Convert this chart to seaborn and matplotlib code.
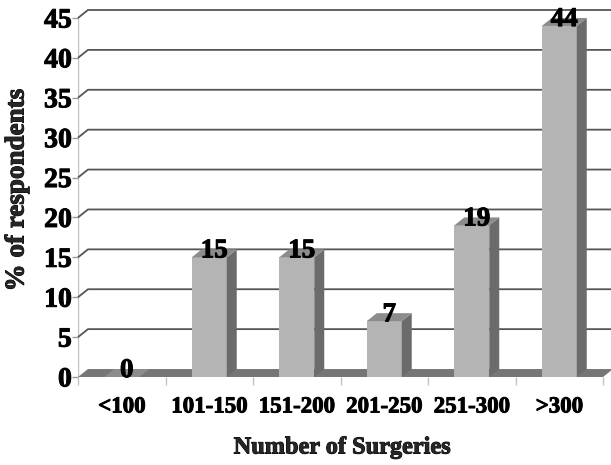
import numpy as np
import pandas as pd
import matplotlib
matplotlib.use("Agg")
import matplotlib.pyplot as plt
import matplotlib.patheffects as pe
from matplotlib.patches import Polygon
import seaborn as sns

# Survey data: share of respondents by annual number of surgeries
categories = ["<100", "101-150", "151-200", "201-250", "251-300", ">300"]
percent = [0, 15, 15, 7, 19, 44]
yticks = [0, 5, 10, 15, 20, 25, 30, 35, 40, 45]

FRONT = "#b4b4b4"
SIDE = "#6b6b6b"
TOP = "#8c8c8c"
FLOOR = "#767676"
GRID = "#555555"
AXIS = "#c2c2c2"

# depth offset of the pseudo-3D look, in data units
DX, DY = 0.114, 1.0

sns.set_theme(style="white")
plt.rcParams["font.family"] = ["Liberation Serif", "DejaVu Serif"]
plt.rcParams["font.weight"] = "bold"

# slight outline to give the heavy bold look
HEAVY = [pe.withStroke(linewidth=0.7, foreground="black")]

fig = plt.figure(figsize=(6.11, 4.65), dpi=100)
ax = fig.add_axes([78 / 611, 88 / 465, 535 / 611, 367 / 465])

df = pd.DataFrame({"Surgeries": categories, "Percent": percent})
sns.barplot(data=df, x="Surgeries", y="Percent", color=FRONT, width=0.4,
            saturation=1, edgecolor="none", linewidth=0, ax=ax, zorder=3)

ax.set_xlim(-0.5, len(categories) - 0.5 + DX)
ax.set_ylim(0, yticks[-1] + DY)
for s in ax.spines.values():
    s.set_visible(False)
ax.set_xlabel("")
ax.set_ylabel("")

# back-wall gridlines with the slanted side-wall segment
x_front, x_back = -0.5, -0.5 + DX
x_right = len(categories) - 0.5 + DX
for v in yticks[1:]:
    ax.plot([x_front, x_back, x_right], [v, v + DY, v + DY],
            color=GRID, lw=1.3, zorder=1, clip_on=False, solid_capstyle="butt")

# floor
ax.add_patch(Polygon([(x_front, 0), (len(categories) - 0.5, 0),
                      (x_right, DY), (x_back, DY)],
                     closed=True, facecolor=FLOOR, edgecolor="none", zorder=2))

# side and top faces for every bar
for p in list(ax.patches):
    if not isinstance(p, matplotlib.patches.Rectangle):
        continue
    x0, w, h = p.get_x(), p.get_width(), p.get_height()
    ax.add_patch(Polygon([(x0 + w, 0), (x0 + w, h), (x0 + w + DX, h + DY),
                          (x0 + w + DX, DY)], closed=True,
                         facecolor=SIDE, edgecolor="none", zorder=3))
    ax.add_patch(Polygon([(x0, h), (x0 + w, h), (x0 + w + DX, h + DY),
                          (x0 + DX, h + DY)], closed=True,
                         facecolor=TOP, edgecolor="none", zorder=3))

# value labels on top of the bars
for i, v in enumerate(percent):
    ax.text(i + DX / 2, v + 0.8, f"{v}", ha="center", va="center",
            fontsize=19.5, fontweight="bold", color="black", zorder=5,
            path_effects=HEAVY)

# axis lines
ax.plot([x_front, x_front], [0, yticks[-1]], color=AXIS, lw=1, zorder=0.5)
ax.plot([x_front, len(categories) - 0.5], [0, 0], color=AXIS, lw=1, zorder=1.5)

ax.set_yticks(yticks)
ax.set_yticklabels([str(t) for t in yticks])
ax.tick_params(axis="y", left=True, length=4, width=1, color="#9a9a9a",
               pad=0.5, labelsize=20, labelcolor="black")

ax.set_xticks(range(len(categories)))
ax.set_xticklabels(categories)
ax.set_xticks(np.arange(-0.5, len(categories), 1.0), minor=True)
ax.tick_params(axis="x", which="major", bottom=False, length=0, pad=14,
               labelsize=16.5, labelcolor="black")
ax.tick_params(axis="x", which="minor", bottom=True, length=6, width=1,
               color=AXIS, direction="out")
for lab in ax.get_xticklabels() + ax.get_yticklabels():
    lab.set_fontweight("bold")
    lab.set_path_effects(HEAVY)

fig.text(17 / 611, 1 - 190 / 465, "% of respondents", rotation=90,
         ha="center", va="center", fontsize=19.5, fontweight="bold",
         path_effects=HEAVY)
fig.text(342 / 611, 1 - 448 / 465, "Number of Surgeries",
         ha="center", va="center", fontsize=17.5, fontweight="bold",
         path_effects=HEAVY)

fig.savefig("out.png", dpi=100)
